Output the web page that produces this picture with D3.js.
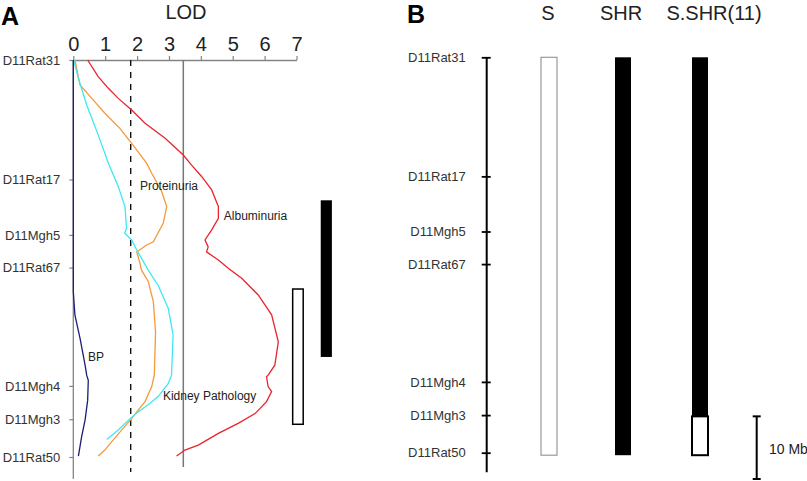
<!DOCTYPE html>
<html><head><meta charset="utf-8">
<script src="https://cdn.jsdelivr.net/npm/d3@7/dist/d3.min.js"></script>
<style>body{margin:0;background:#fff}svg{display:block}text{font-family:Arial,"Liberation Sans",sans-serif}</style>
</head><body><svg id="c" width="807" height="481"></svg>
<script>
// ---------- data ----------
const markers = ["D11Rat31","D11Rat17","D11Mgh5","D11Rat67","D11Mgh4","D11Mgh3","D11Rat50"];
const markerMb = [0, 19.0, 27.8, 33.0, 51.8, 57.1, 63.1];
const lodTicks = [0,1,2,3,4,5,6,7];
const thresholdSuggestive = 1.8;
const thresholdSignificant = 3.45;
// [position Mb, LOD]
const albuminuria = [[0,0.45],[2.65,0.78],[4.5,1.10],[6.1,1.41],[7.95,1.83],[10.05,2.25],[12.45,2.88],[15.1,3.45],[16.7,3.71],[18.55,4.03],[20.65,4.34],[23.3,4.55],[25.15,4.55],[27.0,4.34],[28.6,4.13],[29.7,4.23],[30.5,4.18],[31.8,4.55],[33.1,4.86],[34.7,5.28],[37.35,5.80],[40.5,6.22],[44.8,6.43],[48.5,6.32],[50.1,6.11],[50.35,6.06],[51.9,6.11],[52.7,6.22],[54.3,6.06],[56.2,5.70],[57.75,5.17],[59.35,4.55],[61.2,3.92],[62.0,3.50],[62.95,3.24]];
const proteinuria = [[0,0.05],[3.97,0.21],[6.1,0.58],[8.47,0.99],[10.86,1.46],[13.24,1.83],[16.4,2.30],[18.0,2.46],[20.9,2.77],[23.3,2.93],[25.96,2.82],[28.9,2.51],[29.4,2.30],[30.5,1.99],[32.3,2.09],[33.4,2.14],[35.2,2.35],[38.4,2.51],[43.2,2.58],[50.1,2.54],[51.9,2.46],[54.3,2.25],[55.6,2.04],[57.0,1.83],[58.8,1.52],[60.7,1.20],[62.0,0.99],[62.95,0.78]];
const kidneyPathology = [[0,0.01],[2.9,0.16],[7.15,0.42],[11.9,0.78],[16.4,1.10],[20.1,1.41],[23.3,1.62],[26.75,1.67],[27.5,1.61],[28.6,1.83],[30.2,1.99],[33.4,2.35],[35.8,2.66],[39.5,2.98],[43.7,3.13],[50.1,3.08],[51.4,2.98],[53.5,2.66],[54.6,2.40],[55.9,2.04],[57.0,1.78],[58.8,1.41],[60.3,1.05]];
const bp = [[0,0],[36.8,0],[40.5,0.05],[44.2,0.21],[48.5,0.37],[50.1,0.42],[50.9,0.47],[54.1,0.45],[57.2,0.37],[59.9,0.26],[62.95,0.16]];
const seriesNames = ["Albuminuria","Proteinuria","Kidney Pathology","BP"];
const seriesColors = ["#e8242c","#f59a3a","#3ee8f2","#1c1c78"];
// label anchors [Mb, LOD]
const seriesLabelAt = [[24.75,4.72],[20.1,2.09],[53.4,2.81],[47.2,0.46]];
// QTL intervals in Mb
const qtlOpen = [36.4, 57.9];
const qtlFilled = [22.3, 47.2];
// panel B
const strains = ["S","SHR","S.SHR(11)"];
const strainSegments = [
  [{from:0,to:63.5,shr:false}],
  [{from:0,to:63.5,shr:true}],
  [{from:0,to:57.3,shr:true},{from:57.3,to:63.5,shr:false}]
];
const scaleBarMb = 10;

// ---------- drawing ----------
const svg = d3.select("#c");
const gray = "#858585";

// Panel A
const xA = d3.scaleLinear().domain([0,7]).range([73.3,296.5]);
const yA = d3.scaleLinear().domain([0,63.1]).range([60,457]);
const gA = svg.append("g");

gA.append("text").text("A").attr("x",1).attr("y",25).attr("font-size",25).attr("font-weight","bold");
gA.append("text").text("LOD").attr("x",186).attr("y",19).attr("text-anchor","middle").attr("font-size",20).attr("fill","#222");

gA.append("line").attr("x1",xA(0)).attr("x2",xA(0)).attr("y1",yA(0)).attr("y2",yA(66.6)).attr("stroke",gray).attr("stroke-width",1.3);

const topAxis = d3.axisTop(xA).tickValues(lodTicks).tickFormat(d3.format("d")).tickSize(4).tickSizeOuter(0).tickPadding(5);
const ta = gA.append("g").attr("transform",`translate(0,${yA(0)})`).call(topAxis);
ta.select(".domain").attr("stroke",gray).attr("stroke-width",1.3);
ta.selectAll(".tick line").attr("stroke",gray).attr("stroke-width",1.2);
ta.selectAll(".tick text").attr("font-size",20).attr("fill","#222").attr("font-family","Arial,'Liberation Sans',sans-serif");

const leftAxis = d3.axisLeft(yA).tickValues(markerMb).tickFormat((d,i)=>markers[i]).tickSize(4).tickPadding(9);
const la = gA.append("g").attr("transform",`translate(${xA(0)},0)`).call(leftAxis);
la.select(".domain").remove();
la.selectAll(".tick line").attr("stroke",gray).attr("stroke-width",1.2);
la.selectAll(".tick text").attr("font-size",13).attr("fill","#333").attr("font-family","Arial,'Liberation Sans',sans-serif");

gA.append("line").attr("x1",xA(thresholdSuggestive)).attr("x2",xA(thresholdSuggestive)).attr("y1",yA(0)).attr("y2",yA(65.5))
  .attr("stroke","#111").attr("stroke-width",1.4).attr("stroke-dasharray","6,6");
gA.append("line").attr("x1",xA(thresholdSignificant)).attr("x2",xA(thresholdSignificant)).attr("y1",yA(0)).attr("y2",yA(64.7))
  .attr("stroke","#777").attr("stroke-width",1.5);

const line = d3.line().x(d=>xA(d[1])).y(d=>yA(d[0]));
[albuminuria, proteinuria, kidneyPathology, bp].forEach((s,i)=>{
  gA.append("path").datum(s).attr("d",line).attr("fill","none").attr("stroke",seriesColors[i]).attr("stroke-width",1.3);
});
seriesNames.forEach((n,i)=>{
  gA.append("text").text(n).attr("x",xA(seriesLabelAt[i][1])).attr("y",yA(seriesLabelAt[i][0]))
    .attr("dominant-baseline","central").attr("font-size",12).attr("fill","#222");
});

gA.append("rect").attr("x",xA(6.88)).attr("width",xA(7.21)-xA(6.88)).attr("y",yA(qtlOpen[0])).attr("height",yA(qtlOpen[1])-yA(qtlOpen[0]))
  .attr("fill","#fff").attr("stroke","#000").attr("stroke-width",1.5);
gA.append("rect").attr("x",xA(7.76)).attr("width",xA(8.11)-xA(7.76)).attr("y",yA(qtlFilled[0])).attr("height",yA(qtlFilled[1])-yA(qtlFilled[0]))
  .attr("fill","#000");

// Panel B
const yB = d3.scaleLinear().domain([0,63.1]).range([57.3,452.7]);
const strainX = [549, 623, 700];
const strainLabelX = [548, 621, 714];
const gB = svg.append("g");
gB.append("text").text("B").attr("x",407).attr("y",23).attr("font-size",25).attr("font-weight","bold");
strains.forEach((s,i)=>{
  gB.append("text").text(s).attr("x",strainLabelX[i]).attr("y",20).attr("text-anchor","middle").attr("font-size",20).attr("fill","#222");
});
const axB = d3.axisLeft(yB).tickValues(markerMb).tickFormat((d,i)=>markers[i]).tickSize(5).tickPadding(16);
const ab = gB.append("g").attr("transform","translate(486.7,0)").call(axB);
ab.select(".domain").remove();
ab.selectAll(".tick line").attr("x1",4).attr("stroke","#000").attr("stroke-width",1.8);
ab.selectAll(".tick text").attr("font-size",13).attr("fill","#333").attr("font-family","Arial,'Liberation Sans',sans-serif");
gB.append("line").attr("x1",486.7).attr("x2",486.7).attr("y1",yB(0)).attr("y2",yB(66.2)).attr("stroke","#000").attr("stroke-width",2);

const barW = 16;
strainSegments.forEach((segs,i)=>{
  segs.forEach(sg=>{
    gB.append("rect").attr("x",strainX[i]-barW/2).attr("width",barW)
      .attr("y",yB(sg.from)).attr("height",yB(sg.to)-yB(sg.from))
      .attr("fill",sg.shr?"#000":"#fff")
      .attr("stroke",sg.shr?"#000":(i===0?"#999":"#000")).attr("stroke-width",sg.shr?0:(i===0?1.2:2));
  });
});

const sbTop = yB(57.3), sbBot = sbTop + (yB(scaleBarMb)-yB(0));
const sbX = 756.7;
gB.append("line").attr("x1",sbX).attr("x2",sbX).attr("y1",sbTop).attr("y2",sbBot).attr("stroke","#000").attr("stroke-width",2);
gB.append("line").attr("x1",sbX-4).attr("x2",sbX+4).attr("y1",sbTop).attr("y2",sbTop).attr("stroke","#000").attr("stroke-width",2);
gB.append("line").attr("x1",sbX-4).attr("x2",sbX+4).attr("y1",sbBot).attr("y2",sbBot).attr("stroke","#000").attr("stroke-width",2);
gB.append("text").text(scaleBarMb+" Mb").attr("x",769).attr("y",(sbTop+sbBot)/2+1).attr("dominant-baseline","central").attr("font-size",14).attr("fill","#222");
</script></body></html>
